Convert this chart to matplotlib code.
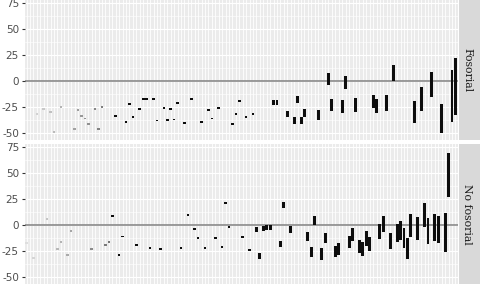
import numpy as np
import matplotlib
matplotlib.use("Agg")
from matplotlib import pyplot as plt

# categories (shared x, discrete) and ranges per facet
n_cat = 126
panels = ["Fosorial", "No fosorial"]

top_idx = [3, 5, 7, 8, 10, 14, 15, 16, 17, 18, 20, 21, 22, 26, 29, 30, 31, 33, 34, 35,
           37, 38, 40, 41, 42, 43, 44, 46, 48, 51, 53, 54, 56, 60, 61, 62, 64, 66, 72, 73,
           76, 78, 79, 80, 81, 85, 88, 89, 92, 93, 96, 101, 102, 105, 107, 113, 115, 118,
           121, 124, 125]
top_lo = [-32, -27, -30, -49, -25, -46, -28, -34, -36, -41, -27, -46, -25, -34, -39, -22, -35,
          -27, -17, -17, -17, -38, -26, -37.5, -27, -37, -21, -40, -17, -39, -28, -36, -26,
          -41, -32, -19, -35, -32, -23, -23, -35, -41, -21, -41, -35, -37, -4, -29, -31, -8,
          -30, -26, -31, -29, 0, -40, -29, -15, -50, -39, -33]
top_hi = [-32, -27, -30, -49, -25, -46, -28, -34, -36, -41, -27, -46, -25, -34, -39, -22, -35,
          -27, -17, -17, -17, -38, -26, -37.5, -27, -37, -21, -40, -17, -39, -28, -36, -26,
          -41, -32, -19, -35, -32, -18, -18, -29, -35, -14, -35, -27, -28, 8, -17, -18, 5,
          -16, -13, -17, -13, 15, -19, -6, 9, -22, 11, 22]

bot_idx = [0, 2, 6, 9, 10, 12, 13, 19, 23, 24, 25, 27, 28, 32, 36, 39, 45, 47, 49, 50, 52,
           55, 57, 58, 59, 63, 65, 67, 68, 69, 70, 71, 74, 75, 77, 82, 83, 84, 86, 87, 90,
           91, 94, 95, 97, 98, 99, 100, 103, 104, 106, 108, 109, 110, 111, 112, 114, 116,
           117, 119, 120, 122, 123]
bot_lo = [-17, -32, 6, -23, -16, -29, -6, -23, -19, -16, 9, -29, -11, -19, -22, -23, -22, 10,
          -4, -12.5, -22, -12.5, -21, 21, -2, -11.5, -24, -7, -33, -6, -5, -5, -21, 16, -8,
          -15, -31, 0, -34, -17, -31, -29, -22, -15, -27, -30, -20, -25, -13.5, -7, -23, -16,
          -14, -22, -33, -11.5, -14, -2, -18, -15, -17, -26, 27]
bot_hi = [-17, -32, 6, -23, -16, -29, -6, -23, -19, -16, 9, -29, -11, -19, -22, -23, -22, 10,
          -4, -12.5, -22, -12.5, -21, 21, -2, -11.5, -24, -2, -27, -1, 0, 0, -15, 22, -1,
          -7, -21, 9, -22, -8, -20, -17, -11, -3, -14, -16, -6, -11.5, 1, 9, -8, 1,
          4, -3, -12.5, 10.5, 8, 21, 7, 10.5, 9, 11.5, 69]

y_ticks = [-50, -25, 0, 25, 50, 75]
y_lim = (-56.7, 77.9)

W, H = 480, 284
fig = plt.figure(figsize=(W / 100, H / 100), dpi=100)

left, right = 24.5 / W, 457.5 / W
panel_h = 140 / H
axes = [fig.add_axes([left, (H - 140) / H, right - left, panel_h]),
        fig.add_axes([left, 0, right - left, panel_h])]


def shade(i):
    # thin marks on the left come out faint, later ones are solid black
    if i <= 24:
        g = 0.87 - 0.017 * i
    else:
        g = 0.05
    return (g, g, g)


data = [(top_idx, top_lo, top_hi), (bot_idx, bot_lo, bot_hi)]
for ax, (idx, lo, hi), lab in zip(axes, data, panels):
    ax.set_facecolor("#EBEBEB")
    for s in ax.spines.values():
        s.set_visible(False)
    ax.set_xlim(-0.6, n_cat - 1 + 0.6)
    ax.set_ylim(*y_lim)
    # grid
    for x in range(n_cat):
        ax.axvline(x, color="white", lw=0.6, zorder=0)
    for y in y_ticks:
        ax.axhline(y, color="white", lw=0.8, zorder=0)
    for y in np.array(y_ticks[:-1]) + 12.5:
        ax.axhline(y, color="white", lw=0.4, zorder=0)
    ax.axhline(0, color="#808080", lw=1.1, zorder=1)

    lo = np.array(lo, float)
    hi = np.array(hi, float)
    minh = 1.8
    h = np.maximum(hi - lo, minh)
    b = np.where(hi - lo < minh, (lo + hi) / 2 - minh / 2, lo)
    cols = [shade(i) for i in idx]
    wid = np.where(hi - lo < minh, 0.75, 0.85)
    ax.bar(idx, h, bottom=b, width=wid, color=cols, linewidth=0, zorder=3)

    ax.set_xticks([])
    ax.set_yticks(y_ticks)
    ax.set_yticklabels([str(t) for t in y_ticks])
    ax.tick_params(axis="y", length=2.5, width=0.8, color="#333333",
                   labelcolor="#4D4D4D", labelsize=7.5, pad=1.5)

    # facet strip on the right
    pos = ax.get_position()
    sax = fig.add_axes([459 / W, pos.y0, 30 / W, pos.height])
    sax.set_facecolor("#D9D9D9")
    sax.set_xticks([])
    sax.set_yticks([])
    for s in sax.spines.values():
        s.set_visible(False)
    sax.text(8.5 / 30, 0.5, lab, rotation=-90, ha="center", va="center",
             fontsize=7.8, family="DejaVu Serif", color="#1A1A1A",
             transform=sax.transAxes)

fig.savefig("out.png", dpi=100)
